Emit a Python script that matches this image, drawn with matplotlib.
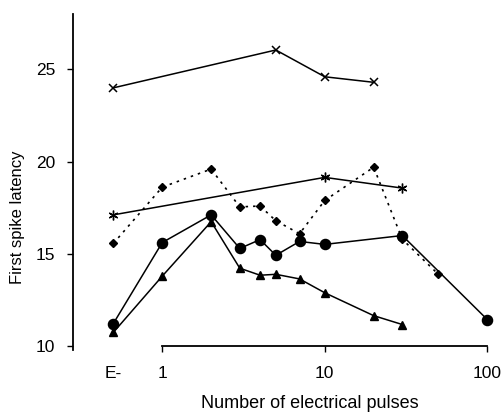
import matplotlib
matplotlib.use("Agg")
import matplotlib.pyplot as plt

plt.rcParams["font.family"] = ["Liberation Sans", "DejaVu Sans"]

# x position 0.5 stands for the "E-" condition
x_upper = [0.5, 5, 10, 20]
y_upper = [24.0, 26.05, 24.6, 24.3]

x_star = [0.5, 10, 30]
y_star = [17.12, 19.15, 18.57]

x_diam = [0.5, 1, 2, 3, 4, 5, 7, 10, 20, 30, 50]
y_diam = [15.57, 18.62, 19.6, 17.55, 17.6, 16.8, 16.1, 17.9, 19.7, 15.8, 13.9]

x_circ = [0.5, 1, 2, 3, 4, 5, 7, 10, 30, 100]
y_circ = [11.23, 15.62, 17.12, 15.3, 15.78, 14.93, 15.68, 15.52, 16.0, 11.45]

x_tri = [0.5, 1, 2, 3, 4, 5, 7, 10, 20, 30]
y_tri = [10.75, 13.8, 16.75, 14.23, 13.85, 13.9, 13.65, 12.9, 11.66, 11.18]

xticks = [0.5, 1, 10, 100]
xticklabels = ["E-", "1", "10", "100"]
yticks = [10, 15, 20, 25]

fig = plt.figure(figsize=(5.01, 4.12), dpi=100)
ax = fig.add_axes([0.146, 0.1505, 0.84, 0.8155])

ax.plot(x_upper, y_upper, color="black", lw=1.1, marker="x", ms=6, mew=1.1, clip_on=False)
ax.plot(x_star, y_star, color="black", lw=1.1, marker=(6, 2, 0), ms=7, mew=1.0, clip_on=False)
ax.plot(x_diam, y_diam, color="black", lw=1.2, ls=(0, (1.5, 3)), marker="D", ms=4, clip_on=False)
ax.plot(x_circ, y_circ, color="black", lw=1.1, marker="o", ms=7.3, clip_on=False)
ax.plot(x_tri, y_tri, color="black", lw=1.1, marker="^", ms=5.5, clip_on=False)

ax.set_xscale("log")
ax.set_xlim(0.283, 110)
ax.set_ylim(9.8, 28)

ax.spines["top"].set_visible(False)
ax.spines["right"].set_visible(False)
ax.spines["bottom"].set_position(("data", 10))
ax.spines["bottom"].set_bounds(1, 100)
ax.spines["left"].set_linewidth(1.3)
ax.spines["bottom"].set_linewidth(1.3)

ax.set_xticks(xticks)
ax.set_xticklabels(xticklabels)
ax.xaxis.set_minor_locator(matplotlib.ticker.NullLocator())
ax.get_xaxis().get_major_ticks()[0].tick1line.set_visible(False)
ax.set_yticks(yticks)
ax.tick_params(axis="both", direction="out", length=4, width=1, labelsize=12.5)
ax.tick_params(axis="y", pad=9)
ax.tick_params(axis="x", pad=10)

ax.set_xlabel("Number of electrical pulses", fontsize=13)
ax.xaxis.set_label_coords(0.562, -0.135)
ax.set_ylabel("First spike latency", fontsize=12)
ax.yaxis.set_label_coords(-0.115, 0.394)

fig.savefig("out.png", dpi=100)
